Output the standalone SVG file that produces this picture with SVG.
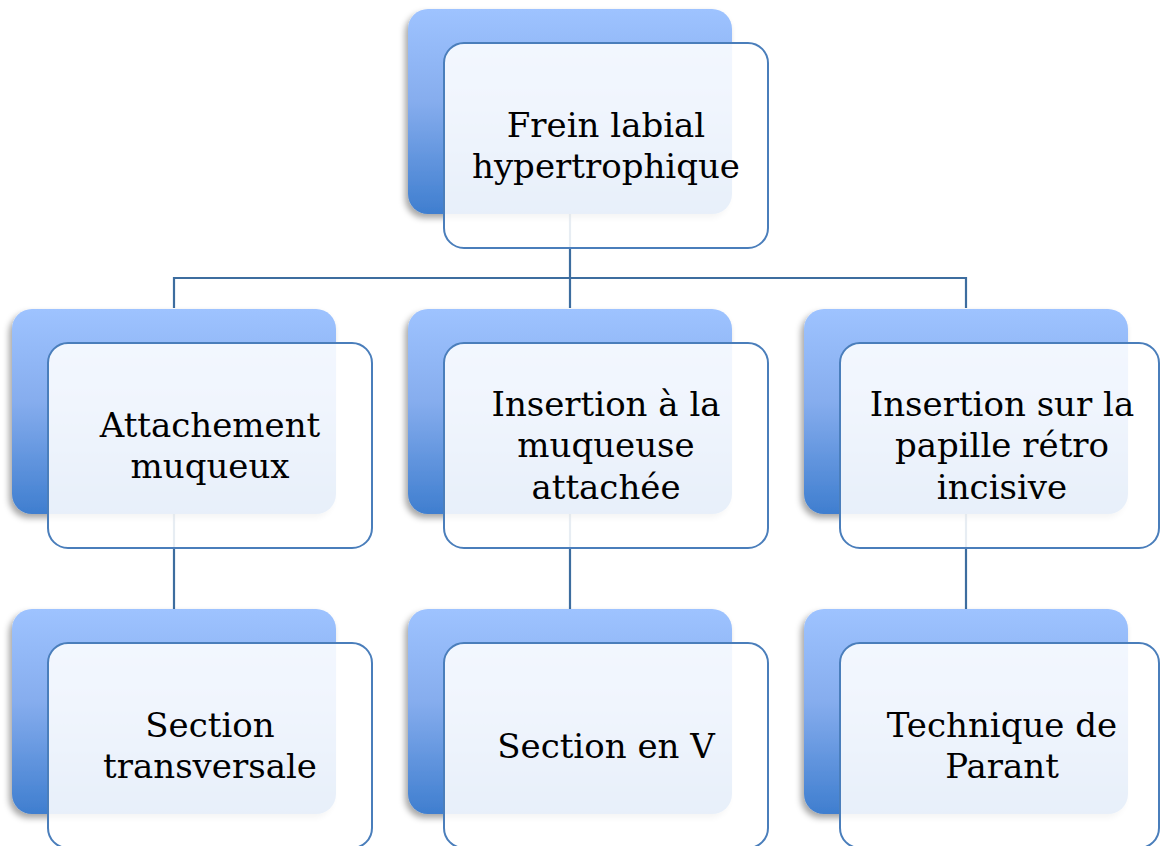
<svg xmlns="http://www.w3.org/2000/svg" width="1160" height="846" viewBox="0 0 1160 846">
<defs>
<linearGradient id="bg" x1="0" y1="0" x2="0" y2="1">
<stop offset="0" stop-color="#9ec3ff"/>
<stop offset="0.45" stop-color="#86adee"/>
<stop offset="1" stop-color="#3f7ecf"/>
</linearGradient>
<filter id="sh" x="-10%" y="-10%" width="120%" height="125%">
<feDropShadow dx="-3" dy="4" stdDeviation="3" flood-color="#000" flood-opacity="0.35"/>
</filter>
<style>
.back{fill:url(#bg);filter:url(#sh)}
.front{fill:#ffffff;fill-opacity:0.88;stroke:#4a7ebb;stroke-width:2}
.conn{stroke:#3d6d9f;stroke-width:2.2;fill:none}
text{font-family:"DejaVu Serif","Liberation Serif",serif;font-size:34px;fill:#000;text-anchor:middle}
</style>
</defs>
<rect width="1160" height="846" fill="#ffffff"/>
<g id="connectors">
<path class="conn" d="M570 214 V278 M174 308 V278 H966 V308 M570 278 V308"/>
<path class="conn" d="M174 514 V609 M570 514 V609 M966 514 V609"/>
</g>
<g id="n0">
<rect class="back" x="408" y="9" width="324" height="205" rx="20"/>
<rect class="front" x="444" y="43" width="324" height="205" rx="20"/>
<text x="606" y="137">Frein labial</text>
<text x="606" y="178">hypertrophique</text>
</g>
<g id="n1">
<rect class="back" x="12" y="309" width="324" height="205" rx="20"/>
<rect class="front" x="48" y="343" width="324" height="205" rx="20"/>
<text x="210" y="437">Attachement</text>
<text x="210" y="478">muqueux</text>
</g>
<g id="n2">
<rect class="back" x="408" y="309" width="324" height="205" rx="20"/>
<rect class="front" x="444" y="343" width="324" height="205" rx="20"/>
<text x="606" y="416">Insertion à la</text>
<text x="606" y="457">muqueuse</text>
<text x="606" y="499">attachée</text>
</g>
<g id="n3">
<rect class="back" x="804" y="309" width="324" height="205" rx="20"/>
<rect class="front" x="840" y="343" width="319" height="205" rx="20"/>
<text x="1002" y="416">Insertion sur la</text>
<text x="1002" y="457">papille rétro</text>
<text x="1002" y="499">incisive</text>
</g>
<g id="n4">
<rect class="back" x="12" y="609" width="324" height="205" rx="20"/>
<rect class="front" x="48" y="643" width="324" height="205" rx="20"/>
<text x="210" y="737">Section</text>
<text x="210" y="778">transversale</text>
</g>
<g id="n5">
<rect class="back" x="408" y="609" width="324" height="205" rx="20"/>
<rect class="front" x="444" y="643" width="324" height="205" rx="20"/>
<text x="606" y="758">Section en V</text>
</g>
<g id="n6">
<rect class="back" x="804" y="609" width="324" height="205" rx="20"/>
<rect class="front" x="840" y="643" width="319" height="205" rx="20"/>
<text x="1002" y="737">Technique de</text>
<text x="1002" y="778">Parant</text>
</g>
</svg>
